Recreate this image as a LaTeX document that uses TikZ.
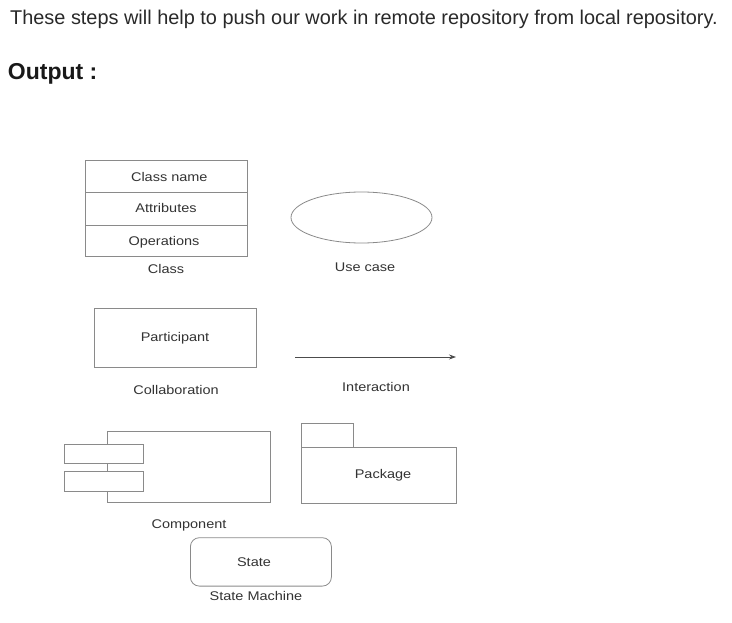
\documentclass[tikz,border=0pt]{standalone}
\usepackage{fontspec}
\setmainfont{Liberation Sans}
\newfontfamily\lblfont[FakeStretch=1.15]{Liberation Sans}
\usetikzlibrary{arrows.meta,shapes.geometric}
\definecolor{linegray}{HTML}{8A8A8A}
\definecolor{txt}{HTML}{333333}
\begin{document}
\begin{tikzpicture}[x=1pt,y=-1pt,
  lbl/.style={anchor=base,inner sep=0pt,text=txt,font=\lblfont\fontsize{12.6}{14}\selectfont},
  shp/.style={draw=linegray,line width=0.8pt,inner sep=0pt,anchor=north west},
]
\useasboundingbox (0,0) rectangle (732,623);
% header text
\node[anchor=base west,inner sep=0pt,text=txt!80!black,font=\fontsize{19.9}{22}\selectfont] (intro) at (10,24.5) {These steps will help to push our work in remote repository from local repository.};
\node[anchor=base west,inner sep=0pt,text=black!90,font=\bfseries\fontsize{23}{25}\selectfont] (out) at (7.7,80) {Output :};

% Class
\node[shp,minimum width=162pt,minimum height=32pt] (cname) at (85,160) {};
\node[shp,minimum width=162pt,minimum height=33pt] (cattr) at (85,192) {};
\node[shp,minimum width=162pt,minimum height=31pt] (cops) at (85,225) {};
\node[lbl] (tcname) at (169.3,181.7) {Class name};
\node[lbl] (tcattr) at (166,212.3) {Attributes};
\node[lbl] (tcops) at (164,245.7) {Operations};
\node[lbl] (tclass) at (166,274) {Class};

% Use case
\node[draw=linegray,line width=0.8pt,ellipse,minimum width=141pt,minimum height=51pt,inner sep=0pt] (uc) at (361.5,217.5) {};
\node[lbl] (tuc) at (365,271.7) {Use case};

% Collaboration
\node[shp,minimum width=162pt,minimum height=59pt] (part) at (94,308) {};
\node[lbl] (tpart) at (175,341.7) {Participant};
\node[lbl] (tcoll) at (176,394) {Collaboration};

% Interaction
\coordinate (a1) at (295,357);
\coordinate (a2) at (456,357);
\draw[draw=black!70,line width=0.8pt,-{Stealth[length=7pt,width=5pt]}] (a1) -- (a2);
\node[lbl] (tint) at (376,391.7) {Interaction};

% Component
\node[shp,minimum width=163.5pt,minimum height=71pt] (comp) at (106.5,430.5) {};
\node[shp,fill=white,minimum width=78.5pt,minimum height=19pt] (port1) at (64.3,444.3) {};
\node[shp,fill=white,minimum width=78.5pt,minimum height=19.5pt] (port2) at (64.3,471) {};
\node[lbl] (tcomp) at (189,528) {Component};

% Package
\node[shp,minimum width=52.5pt,minimum height=24pt] (ptab) at (300.7,423.3) {};
\node[shp,minimum width=155.3pt,minimum height=55.4pt] (pbody) at (300.7,447.3) {};
\node[lbl] (tpkg) at (383,478.3) {Package};

% State
\node[shp,rounded corners=9pt,minimum width=141pt,minimum height=48.4pt] (state) at (190,537.3) {};
\node[lbl] (tstate) at (254,566.7) {State};
\node[lbl] (tsm) at (256,600) {State Machine};
\end{tikzpicture}
\end{document}
